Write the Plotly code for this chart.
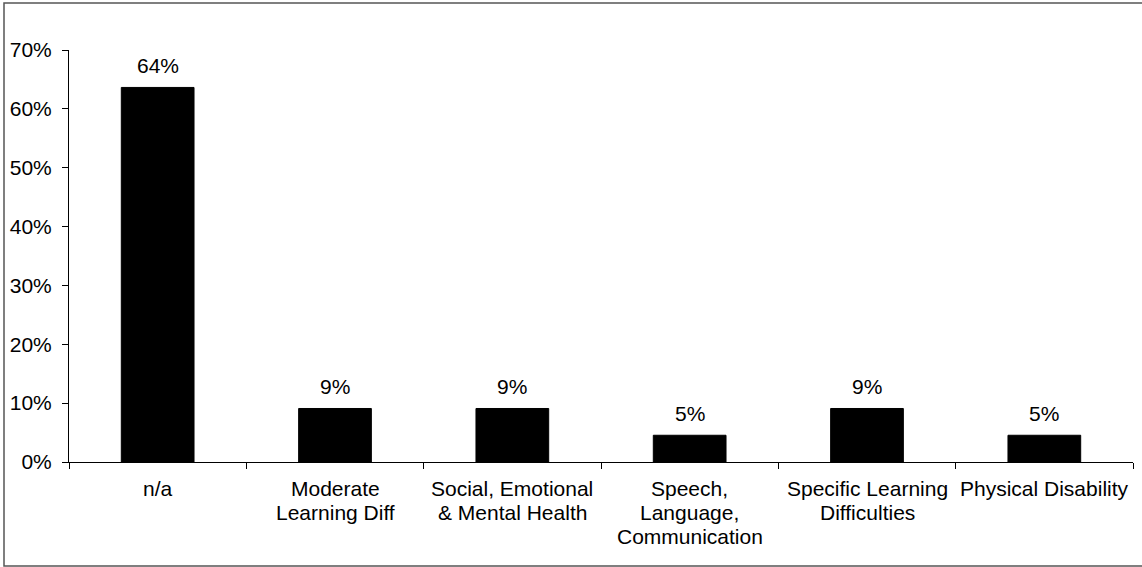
import plotly.graph_objects as go

# Share of pupils by primary need
categories = [
    "n/a",
    "Moderate Learning Diff",
    "Social, Emotional & Mental Health",
    "Speech, Language, Communication",
    "Specific Learning Difficulties",
    "Physical Disability",
]
# wrapped form of each category name, one entry per printed line
category_lines = [
    ["n/a"],
    ["Moderate", "Learning Diff"],
    ["Social, Emotional", "& Mental Health"],
    ["Speech,", "Language,", "Communication"],
    ["Specific Learning", "Difficulties"],
    ["Physical Disability"],
]
shares = [14 / 22, 2 / 22, 2 / 22, 1 / 22, 2 / 22, 1 / 22]
labels = [f"{round(v * 100)}%" for v in shares]
y_ticks = [0, 0.1, 0.2, 0.3, 0.4, 0.5, 0.6, 0.7]
y_tick_text = ["0%", "10%", "20%", "30%", "40%", "50%", "60%", "70%"]

FONT = "Liberation Sans, Arial, sans-serif"
FS = 21
W, H = 1142, 567
ML, MR, MT, MB = 69, 9, 50, 105
pw, ph = W - ML - MR, H - MT - MB


def px_x(p):
    return (p - ML) / pw


def px_y(p):
    return (H - MB - p) / ph


fig = go.Figure(
    go.Bar(
        x=categories,
        y=shares,
        marker=dict(color="black", line=dict(color="black", width=1)),
        hoverinfo="x+y",
    )
)

annotations = []
# value labels above the bars
for cat, val, lab in zip(categories, shares, labels):
    annotations.append(
        dict(
            x=cat, y=val, xref="x", yref="y",
            text=lab, showarrow=False,
            xanchor="center", yanchor="bottom", yshift=8,
            font=dict(family=FONT, size=FS, color="black"),
        )
    )
# category names under the axis, with a tight line pitch
LINE_PITCH = 24
FIRST_LINE = 26
for cat, lines in zip(categories, category_lines):
    for i, line in enumerate(lines):
        annotations.append(
            dict(
                x=cat, y=0, xref="x", yref="paper",
                text=line, showarrow=False,
                xanchor="center", yanchor="middle",
                yshift=-(FIRST_LINE + i * LINE_PITCH),
                font=dict(family=FONT, size=FS, color="black"),
            )
        )

fig.update_layout(
    width=W,
    height=H,
    margin=dict(l=ML, r=MR, t=MT, b=MB, pad=0),
    paper_bgcolor="white",
    plot_bgcolor="white",
    bargap=0.59,
    showlegend=False,
    font=dict(family=FONT, size=FS, color="black"),
    annotations=annotations,
    shapes=[
        dict(
            type="rect",
            xref="paper",
            yref="paper",
            x0=px_x(4),
            x1=px_x(1146),
            y0=px_y(566),
            y1=px_y(3),
            line=dict(color="#555555", width=1.5),
            fillcolor="rgba(0,0,0,0)",
            layer="below",
        )
    ],
)

fig.update_xaxes(
    showline=True,
    linecolor="black",
    linewidth=1,
    ticks="outside",
    tickson="boundaries",
    ticklen=6,
    tickcolor="black",
    showgrid=False,
    showticklabels=False,
)

fig.update_yaxes(
    range=[0, 0.7],
    tickvals=y_ticks,
    ticktext=y_tick_text,
    showline=True,
    linecolor="black",
    linewidth=1,
    ticks="outside",
    ticklen=6,
    tickcolor="black",
    showgrid=False,
    zeroline=False,
    ticklabelstandoff=6,
    tickfont=dict(family=FONT, size=FS, color="black"),
)

fig.write_html("out.html")
